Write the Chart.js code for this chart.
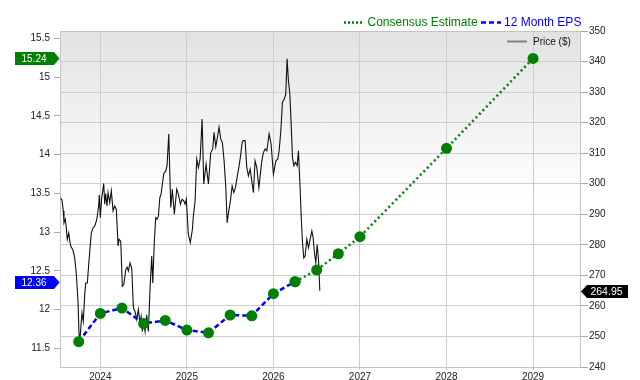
<!DOCTYPE html>
<html><head><meta charset="utf-8">
<script src="https://cdn.jsdelivr.net/npm/chart.js@4.4.1/dist/chart.umd.min.js"></script>
<style>html,body{margin:0;padding:0;background:#fff}</style>
</head><body>
<canvas id="c" width="640" height="380"></canvas>
<script>
// ---- data ----
const yearTicks = [2024, 2025, 2026, 2027, 2028, 2029];
const epsTicks = [11.5, 12, 12.5, 13, 13.5, 14, 14.5, 15, 15.5];
const priceTicksStep = 10;

const epsDates = [2023.75, 2024.0, 2024.25, 2024.5, 2024.75, 2025.0, 2025.25, 2025.5, 2025.75, 2026.0, 2026.25];
const epsValues = [11.585, 11.95, 12.02, 11.82, 11.86, 11.735, 11.70, 11.93, 11.92, 12.205, 12.36];

const consensusDates = [2026.25, 2026.5, 2026.75, 2027.0, 2028.0, 2029.0];
const consensusValues = [12.36, 12.51, 12.72, 12.94, 14.08, 15.24];

const priceDates = [
2023.542,2023.557,2023.572,2023.580,2023.595,2023.607,2023.618,2023.635,2023.646,2023.658,
2023.684,2023.704,2023.723,2023.742,2023.754,2023.765,2023.788,2023.803,2023.820,2023.831,
2023.850,2023.866,2023.881,2023.896,2023.916,2023.935,2023.954,2023.965,2023.982,2023.988,
2024.000,2024.016,2024.028,2024.039,2024.051,2024.062,2024.077,2024.089,2024.109,2024.127,
2024.147,2024.166,2024.185,2024.205,2024.216,2024.236,2024.254,2024.271,2024.294,2024.309,
2024.324,2024.343,2024.363,2024.382,2024.401,2024.421,2024.439,2024.459,2024.471,2024.486,
2024.497,2024.517,2024.536,2024.555,2024.575,2024.594,2024.606,2024.624,2024.640,2024.655,
2024.671,2024.687,2024.702,2024.717,2024.733,2024.756,2024.771,2024.791,2024.802,2024.814,
2024.832,2024.855,2024.883,2024.902,2024.925,2024.945,2024.964,2024.979,2024.994,2025.017,
2025.040,2025.064,2025.075,2025.095,2025.114,2025.133,2025.153,2025.176,2025.195,2025.222,
2025.249,2025.276,2025.299,2025.314,2025.334,2025.353,2025.372,2025.392,2025.410,2025.430,
2025.450,2025.465,2025.484,2025.503,2025.523,2025.542,2025.561,2025.580,2025.600,2025.618,
2025.638,2025.653,2025.673,2025.692,2025.711,2025.731,2025.750,2025.769,2025.788,2025.808,
2025.832,2025.866,2025.884,2025.904,2025.924,2025.950,2025.973,2026.000,2026.028,2026.051,
2026.066,2026.086,2026.104,2026.127,2026.143,2026.158,2026.173,2026.190,2026.205,2026.220,
2026.236,2026.254,2026.274,2026.289,2026.305,2026.320,2026.335,2026.351,2026.366,2026.386,
2026.405,2026.424,2026.444,2026.459,2026.474,2026.490,2026.505,2026.520,2026.536];
const prices = [
295.3,294.6,291.1,287.2,288.4,285.6,281.8,283.9,281.4,279.6,
278.2,275.7,270.3,261.5,250.6,249.4,257.7,254.9,263.7,267.5,
267.5,273.6,279.0,283.9,285.6,286.1,287.8,289.4,293.3,296.3,
288.9,295.4,297.7,300.1,293.3,296.8,292.7,297.1,293.8,297.7,
291.1,292.7,291.6,279.6,281.8,281.2,266.4,267.0,271.9,272.7,
271.4,274.1,272.4,259.3,258.2,255.5,258.8,254.4,256.6,251.6,
256.0,251.6,257.1,251.6,265.9,276.3,267.5,281.2,288.9,288.4,
289.4,295.4,296.6,299.9,303.3,304.2,305.9,316.3,304.2,292.2,
298.2,290.0,298.2,296.6,293.3,294.9,294.4,293.3,294.9,283.4,
280.7,285.1,289.4,294.4,308.1,305.3,308.1,321.2,299.9,306.4,
299.9,310.2,311.4,316.8,312.1,315.2,318.5,314.6,313.5,307.5,
298.7,287.2,291.1,294.4,299.3,297.1,298.7,302.0,305.3,308.6,
313.5,314.1,314.1,305.3,302.6,304.8,300.9,297.1,307.5,305.3,
298.7,307.5,310.2,311.4,310.8,316.3,313.0,303.1,307.5,308.1,
310.8,317.4,326.7,327.8,329.4,340.9,333.8,329.4,319.6,308.6,
305.9,307.0,305.9,310.8,300.9,290.0,281.2,275.7,276.3,281.8,
279.0,281.8,284.5,282.3,277.4,274.1,280.1,275.7,264.95];

// ---- styles ----
const GREEN = '#008000';
const BLUE = '#0000ff';
const FONT = '"Liberation Sans", Arial, Helvetica, sans-serif';
const GRID = '#cdcdcd';

function pts(xs, ys) { return xs.map((x, i) => ({ x: x, y: ys[i] })); }

const bgPlugin = {
  id: 'bg',
  beforeDraw(chart) {
    const { ctx, chartArea: a } = chart;
    const g = ctx.createLinearGradient(0, a.top, 0, a.bottom);
    g.addColorStop(0, '#e2e2e2');
    g.addColorStop(0.5, '#ffffff');
    g.addColorStop(1, '#ffffff');
    ctx.save();
    ctx.fillStyle = g;
    ctx.fillRect(a.left, a.top, a.right - a.left, a.bottom - a.top);
    ctx.restore();
  },
  beforeDatasetsDraw(chart) {
    const { ctx, chartArea: a } = chart;
    ctx.save();
    ctx.strokeStyle = '#c4c4c4';
    ctx.lineWidth = 1;
    ctx.strokeRect(a.left + 0.5, a.top + 0.5, a.right - a.left - 1, a.bottom - a.top);
    ctx.restore();
  },
  afterDraw(chart) {
    const { ctx, chartArea: a } = chart;
    const yL = chart.scales.yL, yR = chart.scales.yR;
    ctx.save();
    // legend (top)
    const ds = chart.data.datasets;
    ctx.font = '12px ' + FONT;
    ctx.textBaseline = 'middle';
    const ly = 22.5;
    ctx.lineWidth = 2.5;
    ctx.strokeStyle = GREEN; ctx.setLineDash([2, 2]);
    ctx.beginPath(); ctx.moveTo(344, ly); ctx.lineTo(362, ly); ctx.stroke();
    ctx.fillStyle = GREEN; ctx.textAlign = 'left';
    ctx.fillText(ds[1].label, 367.5, ly);
    ctx.strokeStyle = BLUE; ctx.setLineDash([5, 3]);
    ctx.beginPath(); ctx.moveTo(481, ly); ctx.lineTo(501, ly); ctx.stroke();
    ctx.fillStyle = BLUE;
    ctx.fillText(ds[0].label, 504, ly);
    ctx.setLineDash([]);
    // price legend inside
    ctx.strokeStyle = '#808080'; ctx.lineWidth = 2;
    ctx.beginPath(); ctx.moveTo(507, 41.5); ctx.lineTo(527, 41.5); ctx.stroke();
    ctx.font = '10px ' + FONT; ctx.fillStyle = '#111';
    ctx.fillText(ds[2].label, 533, 42);

    // value tags
    function leftTag(val, color) {
      const y = Math.round(yL.getPixelForValue(val)) + 0.5;
      ctx.fillStyle = color;
      ctx.beginPath();
      ctx.moveTo(15, y - 6.5); ctx.lineTo(54, y - 6.5); ctx.lineTo(59.5, y);
      ctx.lineTo(54, y + 6.5); ctx.lineTo(15, y + 6.5); ctx.closePath(); ctx.fill();
      ctx.fillStyle = '#fff'; ctx.textAlign = 'center'; ctx.font = '10px ' + FONT;
      ctx.fillText(val.toFixed(2), 34, y + 0.5);
    }
    leftTag(consensusValues[consensusValues.length - 1], GREEN);
    leftTag(epsValues[epsValues.length - 1], BLUE);
    const pv = prices[prices.length - 1];
    const py = Math.round(yR.getPixelForValue(pv)) + 0.5;
    ctx.fillStyle = '#000';
    ctx.beginPath();
    ctx.moveTo(581, py); ctx.lineTo(587, py - 6.5); ctx.lineTo(628, py - 6.5);
    ctx.lineTo(628, py + 6.5); ctx.lineTo(587, py + 6.5); ctx.closePath(); ctx.fill();
    ctx.fillStyle = '#fff'; ctx.textAlign = 'center'; ctx.font = '10.5px ' + FONT;
    ctx.fillText(pv.toFixed(2), 606.5, py + 0.5);
    ctx.restore();
  }
};

Chart.defaults.font.family = FONT;
Chart.defaults.font.size = 10;
Chart.defaults.color = '#222';

new Chart(document.getElementById('c'), {
  type: 'line',
  data: {
    datasets: [
      {
        label: '12 Month EPS',
        data: pts(epsDates, epsValues),
        yAxisID: 'yL',
        borderColor: BLUE,
        borderWidth: 2.5,
        borderDash: [5, 3],
        pointRadius: 5.5,
        pointBackgroundColor: GREEN,
        pointBorderColor: GREEN,
        pointBorderWidth: 0,
        tension: 0,
        order: 0
      },
      {
        label: 'Consensus Estimate',
        data: pts(consensusDates, consensusValues),
        yAxisID: 'yL',
        borderColor: GREEN,
        borderWidth: 2.5,
        borderDash: [2, 3],
        pointRadius: 5.5,
        pointBackgroundColor: GREEN,
        pointBorderColor: GREEN,
        pointBorderWidth: 0,
        tension: 0,
        order: 1
      },
      {
        label: 'Price ($)',
        data: pts(priceDates, prices),
        yAxisID: 'yR',
        borderColor: '#111',
        borderWidth: 1.1,
        pointRadius: 0,
        tension: 0,
        order: 2
      }
    ]
  },
  options: {
    responsive: false,
    devicePixelRatio: 1,
    animation: false,
    events: [],
    layout: { padding: { top: 31, left: 0, right: 0, bottom: 0 } },
    plugins: { legend: { display: false }, tooltip: { enabled: false } },
    scales: {
      x: {
        type: 'linear',
        min: 2023.534,
        max: 2029.554,
        afterBuildTicks: s => { s.ticks = yearTicks.map(v => ({ value: v })); },
        afterFit: s => { s.height = 13; },
        ticks: { padding: 1, maxRotation: 0, autoSkip: false, callback: v => String(v) },
        grid: { color: GRID, tickColor: GRID, tickLength: 3 },
        border: { display: false }
      },
      yL: {
        type: 'linear',
        position: 'left',
        min: 11.259,
        max: 15.594,
        afterBuildTicks: s => { s.ticks = epsTicks.map(v => ({ value: v })); },
        afterFit: s => { s.width = 60; },
        ticks: { padding: 4, callback: v => String(v) },
        grid: { drawOnChartArea: false, tickColor: '#aaa', tickLength: 6 },
        border: { display: false }
      },
      yR: {
        type: 'linear',
        position: 'right',
        min: 240,
        max: 350,
        ticks: { stepSize: priceTicksStep, padding: 1 },
        afterFit: s => { s.width = 59; },
        grid: { color: GRID, tickColor: '#aaa', tickLength: 7 },
        border: { display: false }
      }
    }
  },
  plugins: [bgPlugin]
});
</script>
</body></html>
